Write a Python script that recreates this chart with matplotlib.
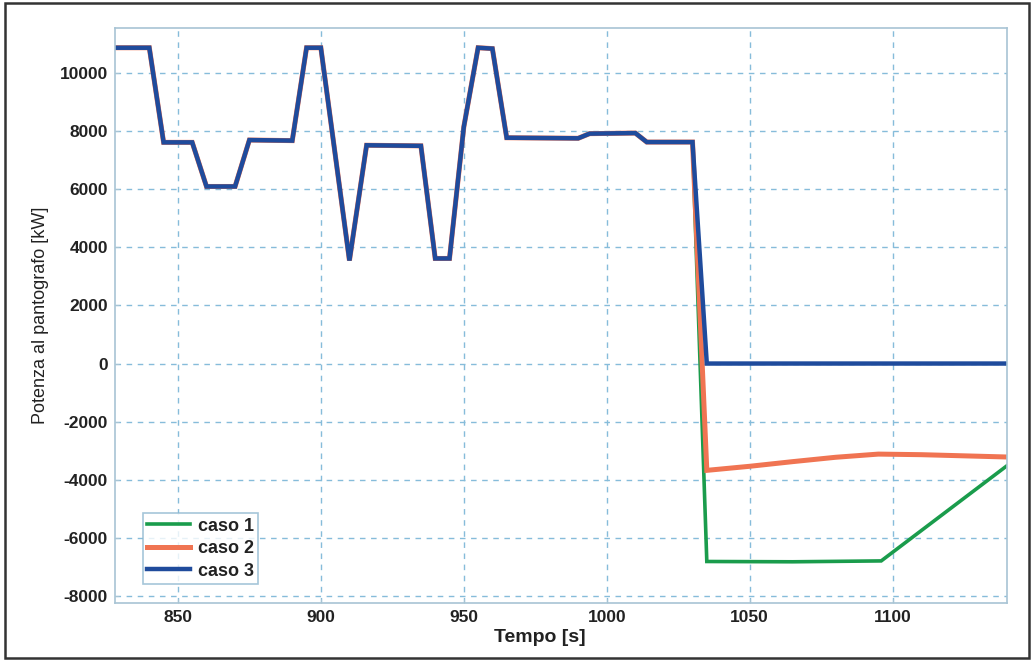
import matplotlib.pyplot as plt
from matplotlib.patches import Rectangle
import numpy as np

# Dati: parte comune ai tre casi (fino a 1030 s)
t_comune = [828, 840, 845, 855, 860, 870, 875, 890, 895, 900, 910, 916,
            935, 940, 945, 950, 955, 960, 965, 990, 994, 1010, 1014, 1030]
p_comune = [10880, 10880, 7620, 7620, 6100, 6100, 7700, 7680, 10880, 10880,
            3550, 7520, 7500, 3620, 3620, 8150, 10880, 10850, 7780, 7760,
            7920, 7940, 7630, 7630]

# Code dei singoli casi dopo la frenata
t_caso1 = [1035, 1065, 1096, 1140]
p_caso1 = [-6820, -6830, -6800, -3520]
t_caso2 = [1035, 1050, 1065, 1080, 1095, 1110, 1125, 1140]
p_caso2 = [-3680, -3540, -3380, -3230, -3120, -3140, -3180, -3220]
t_caso3 = [1035, 1140]
p_caso3 = [0, 0]

etichette = ['caso 1', 'caso 2', 'caso 3']
colori = ['#1a9c4c', '#f07452', '#1f4b9c']
spessori = [2.6, 3.6, 3.2]

plt.rcParams['font.family'] = ['Liberation Sans', 'DejaVu Sans']
plt.rcParams['axes.unicode_minus'] = False

fig = plt.figure(figsize=(10.33, 6.61), dpi=100)
ax = fig.add_axes([115/1033, 1 - 603/661, 892/1033, 575/661])

code = [(t_caso1, p_caso1), (t_caso2, p_caso2), (t_caso3, p_caso3)]
for (tc, pc), lab, col, lw in zip(code, etichette, colori, spessori):
    t = np.concatenate([t_comune, tc])
    p = np.concatenate([p_comune, pc])
    ax.plot(t, p, color=col, lw=lw, label=lab, solid_joinstyle='miter')

ax.set_xlim(828, 1140)
ax.set_ylim(-8250, 11560)
ax.set_xticks(np.arange(850, 1101, 50))
ax.set_yticks(np.arange(-8000, 10001, 2000))

ax.grid(True, color='#86bcda', linestyle=(0, (4, 4)), linewidth=1.0)
for s in ax.spines.values():
    s.set_color('#a8c4d4')
    s.set_linewidth(1.2)
ax.tick_params(direction='in', length=3, color='#a8c4d4', labelsize=12.5,
               pad=5)
for lab in ax.get_xticklabels() + ax.get_yticklabels():
    lab.set_fontweight('bold')
    lab.set_color('#222222')

ax.set_xlabel('Tempo [s]', fontsize=14, fontweight='bold', color='#222222')
ax.xaxis.set_label_coords(0.476, -0.045)
ax.set_ylabel('Potenza al pantografo [kW]', fontsize=13, color='#222222')
ax.yaxis.set_label_coords(-0.074, 0.5)

leg = ax.legend(loc='lower left', bbox_to_anchor=(0.031, 0.033), fontsize=13,
                frameon=True, fancybox=False, handlelength=2.4,
                borderpad=0.25, labelspacing=0.3, handletextpad=0.4,
                borderaxespad=0)
leg.get_frame().set_edgecolor('#8fb8d0')
leg.get_frame().set_linewidth(1.2)
for txt in leg.get_texts():
    txt.set_fontweight('bold')
    txt.set_color('#222222')

# cornice esterna
fig.patches.append(Rectangle((5/1033, 3/661), 1024/1033, 655/661,
                             transform=fig.transFigure, fill=False,
                             edgecolor='#333333', linewidth=1.8))

fig.savefig('out.png', dpi=100)
